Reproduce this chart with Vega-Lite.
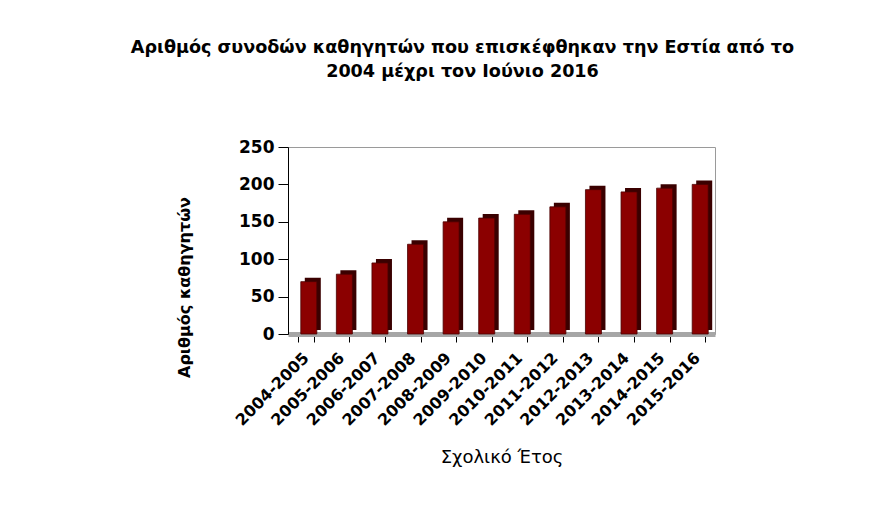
{
  "$schema": "https://vega.github.io/schema/vega-lite/v6.json",
  "autosize": {"type": "none"},
  "width": 427,
  "height": 187,
  "padding": {"left": 288, "top": 147, "right": 158, "bottom": 173},
  "background": "white",
  "title": {
    "text": ["Αριθμός συνοδών καθηγητών που επισκέφθηκαν την Εστία από το", "2004 μέχρι τον Ιούνιο 2016"],
    "font": "DejaVu Sans",
    "fontSize": 17.6,
    "fontWeight": "bold",
    "color": "#000000",
    "lineHeight": 24,
    "anchor": "middle",
    "dx": -39,
    "offset": 57
  },
  "data": {
    "values": [
      {"year": "2004-2005", "value": 70},
      {"year": "2005-2006", "value": 80},
      {"year": "2006-2007", "value": 95},
      {"year": "2007-2008", "value": 120},
      {"year": "2008-2009", "value": 150},
      {"year": "2009-2010", "value": 155},
      {"year": "2010-2011", "value": 160},
      {"year": "2011-2012", "value": 170},
      {"year": "2012-2013", "value": 193},
      {"year": "2013-2014", "value": 190},
      {"year": "2014-2015", "value": 195},
      {"year": "2015-2016", "value": 200}
    ]
  },
  "encoding": {
    "x": {
      "field": "year",
      "type": "nominal",
      "sort": null,
      "scale": {"paddingInner": 0.55, "paddingOuter": 0.275},
      "title": "Σχολικό Έτος",
      "axis": {
        "labelAngle": -45,
        "labelAlign": "right",
        "labelBaseline": "middle",
        "labelFont": "DejaVu Sans",
        "labelFontSize": 16,
        "labelFontWeight": "bold",
        "labelColor": "#000000",
        "labelPadding": 13,
        "domainColor": "#a6a6a6",
        "domainWidth": 5,
        "tickColor": "#000000",
        "tickSize": 8,
        "tickBand": "extent",
        "titleFont": "DejaVu Sans",
        "titleFontSize": 18,
        "titleFontWeight": "normal",
        "titleColor": "#000000",
        "titlePadding": 20
      }
    },
    "y": {
      "field": "value",
      "type": "quantitative",
      "scale": {"domain": [0, 250]},
      "title": "Αριθμός καθηγητών",
      "axis": {
        "values": [0, 50, 100, 150, 200, 250],
        "labelOverlap": false,
        "grid": false,
        "labelFont": "DejaVu Sans",
        "labelFontSize": 17,
        "labelFontWeight": "bold",
        "labelColor": "#000000",
        "labelPadding": 4,
        "domainColor": "#000000",
        "tickColor": "#000000",
        "tickSize": 10,
        "titleFont": "DejaVu Sans",
        "titleFontSize": 16,
        "titleFontWeight": "bold",
        "titleColor": "#000000",
        "titlePadding": 46,
        "titleY": 140
      }
    }
  },
  "layer": [
    {
      "mark": {"type": "bar", "color": "#3a0000", "xOffset": 7, "yOffset": -4}
    },
    {
      "mark": {"type": "bar", "color": "#8b0000", "stroke": "#4a0000", "strokeWidth": 0.8, "xOffset": 3}
    }
  ],
  "config": {
    "view": {"stroke": "#9a9a9a", "strokeWidth": 1}
  }
}
